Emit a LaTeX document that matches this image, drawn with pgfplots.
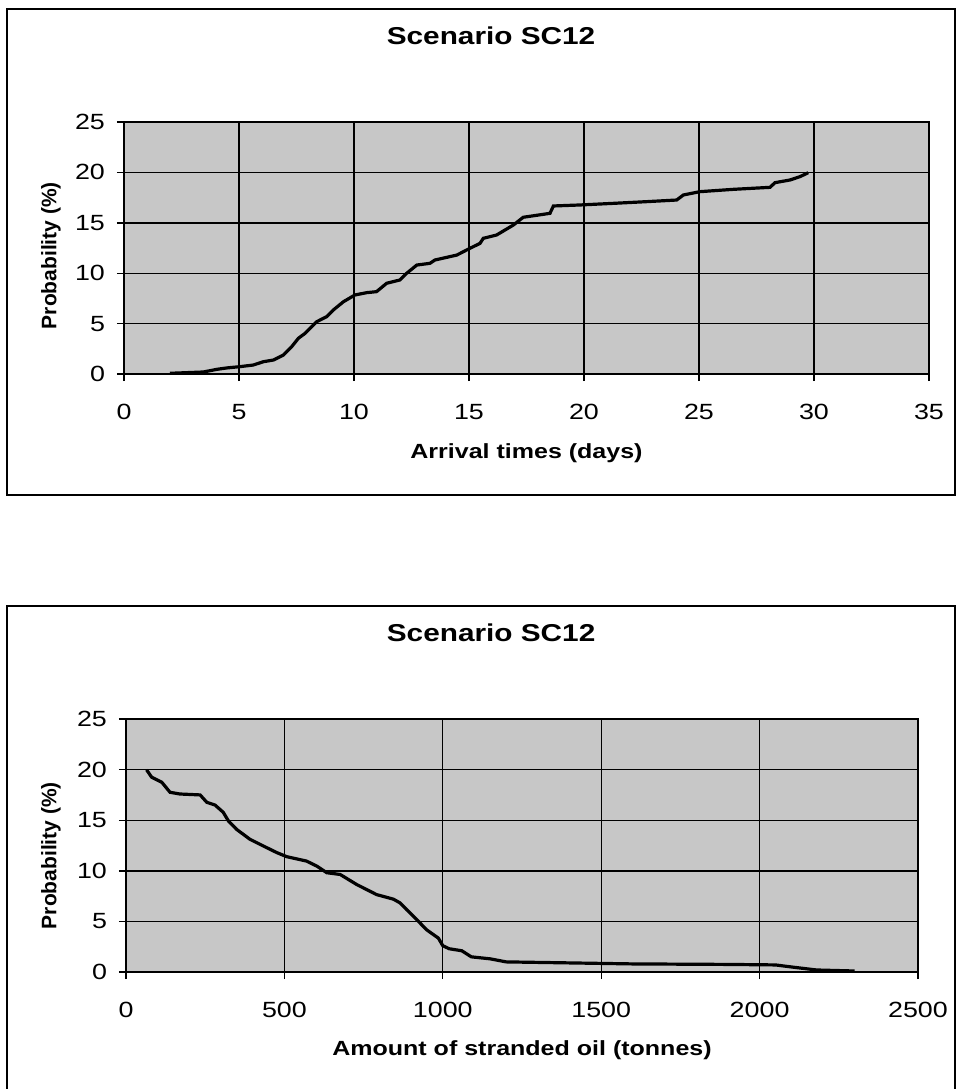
\documentclass[border=0pt]{standalone}
\usepackage{fontspec}
\setmainfont{Liberation Sans}[FakeStretch=1.22]
\newfontfamily\plainsans{Liberation Sans}
\usepackage{pgfplots}
\pgfplotsset{compat=1.18}

% shared look of both Excel-style panels
\pgfplotsset{
  sc/.style={
    scale only axis,
    axis background/.style={fill=black!22},
    grid=major,
    major grid style={black, line width=0.7pt},
    axis line style={black, line width=0.8pt},
    tick align=outside, major tick length=3.5pt,
    tick style={black, line width=0.7pt},
    xtick pos=left, ytick pos=left,
    ymin=0, ymax=25, ytick={0,5,...,25},
    scaled ticks=false,
    /pgf/number format/assume math mode=true,
    /pgf/number format/1000 sep={},
    tick label style={font=\fontsize{11}{12}\selectfont},
    xticklabel style={yshift=-8pt},
    yticklabel style={xshift=-2.5pt},
    xlabel style={font=\bfseries\fontsize{10.25}{12}\selectfont, anchor=center},
    ylabel style={font=\plainsans\bfseries\fontsize{10.5}{12}\selectfont, anchor=center},
    title style={font=\bfseries\fontsize{12.2}{14}\selectfont, anchor=center},
  }
}

\begin{document}
\begin{tikzpicture}
\path[use as bounding box] (0,0) rectangle (478.5pt,-544.5pt);
\draw[line width=0.75pt] (3.5pt,-4.5pt) rectangle (477.5pt,-247.5pt);
\draw[line width=0.75pt] (3.5pt,-544.5pt) |- (477.5pt,-303pt) -- (477.5pt,-544.5pt);

\begin{axis}[sc,
  at={(62pt,-187pt)}, anchor=south west,
  width=402.5pt, height=126pt,
  xmin=0, xmax=35, xtick={0,5,...,35},
  title={Scenario SC12},
  title style={at={(axis description cs:0.456,1.294)}},
  xlabel={Arrival times (days)},
  xlabel style={at={(axis description cs:0.5,-0.315)}},
  ylabel={Probability (\%)},
  ylabel style={at={(axis description cs:-0.0907,0.47)}},
]
\addplot[black, line width=1.6pt] coordinates {
(2.0,0.07)(3.45,0.2)(4.03,0.46)(4.46,0.6)(5.04,0.73)(5.62,0.89)(6.06,1.22)
(6.5,1.39)(6.93,1.88)(7.29,2.71)(7.58,3.54)(7.87,4.03)(8.38,5.19)(8.81,5.69)
(9.1,6.35)(9.54,7.17)(10.04,7.84)(10.55,8.07)(10.98,8.17)(11.42,9.0)(12.0,9.33)
(12.29,9.99)(12.73,10.81)(13.3,10.98)(13.52,11.31)(14.47,11.8)(15.04,12.47)
(15.48,12.96)(15.62,13.46)(16.2,13.79)(16.93,14.78)(17.36,15.55)(18.52,15.94)
(18.67,16.67)(19.83,16.77)(21.27,16.93)(22.73,17.1)(24.03,17.26)(24.32,17.76)
(25.04,18.09)(26.49,18.32)(28.09,18.52)(28.3,18.98)(28.96,19.25)(29.39,19.58)
(29.75,19.97)
};
\end{axis}

\begin{axis}[sc,
  at={(63pt,-486pt)}, anchor=south west,
  width=396pt, height=126.5pt,
  xmin=0, xmax=2500, xtick={0,500,...,2500},
  title={Scenario SC12},
  title style={at={(axis description cs:0.461,1.292)}},
  xlabel={Amount of stranded oil (tonnes)},
  xlabel style={at={(axis description cs:0.5,-0.308)}},
  ylabel={Probability (\%)},
  ylabel style={at={(axis description cs:-0.0947,0.46)}},
]
\addplot[black, line width=1.6pt] coordinates {
(65,19.98)(81,19.25)(113,18.75)(139,17.76)(170,17.59)(234,17.5)(255,16.77)
(281,16.5)(307,15.78)(323,14.94)(349,14.1)(391,13.12)(433,12.46)(476,11.8)
(507,11.4)(570,10.96)(602,10.47)(634,9.81)(676,9.64)(728,8.65)(791,7.65)
(844,7.2)(865,6.83)(886,6.16)(918,5.17)(949,4.17)(986,3.35)(1000,2.6)
(1020,2.3)(1060,2.1)(1090,1.5)(1150,1.3)(1200,1.0)(1400,0.9)(1600,0.8)
(1900,0.75)(2050,0.7)(2100,0.5)(2180,0.2)(2300,0.1)
};
\end{axis}
\end{tikzpicture}
\end{document}
